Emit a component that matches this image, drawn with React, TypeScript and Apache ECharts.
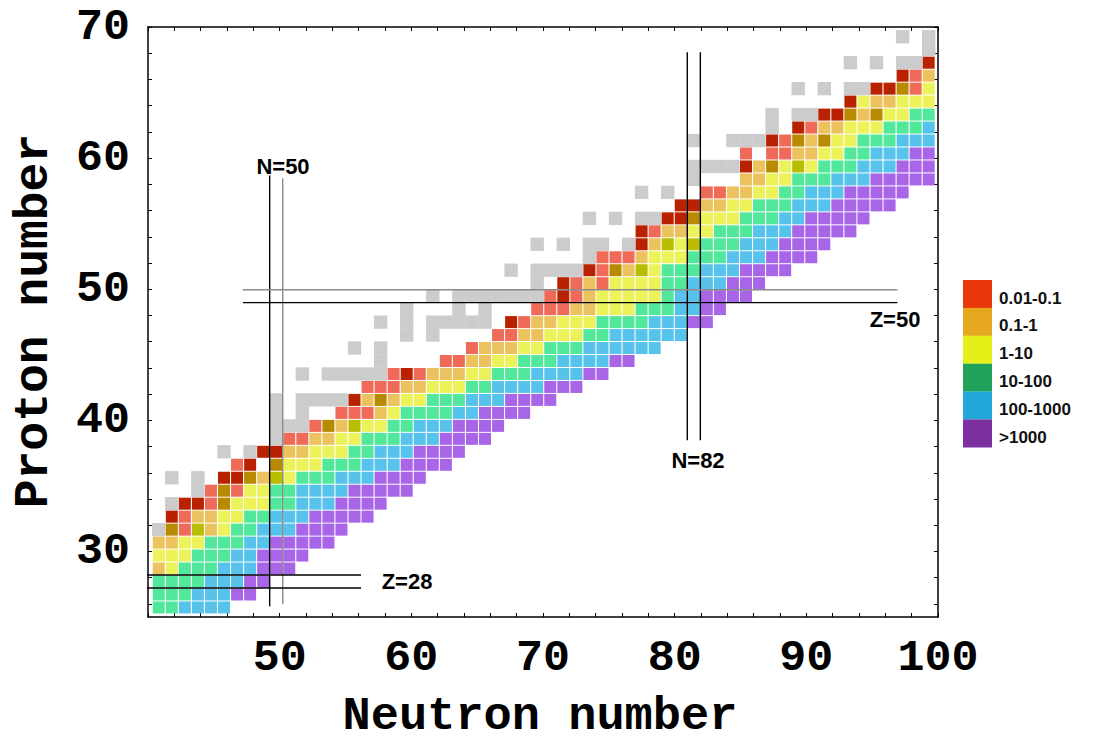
import React, { useEffect, useRef } from "react";
import * as echarts from "echarts";

// ---- data: one row per proton number Z, starting at neutron number firstNeutron ----
// codes: g unknown(grey), R/r 0.01-0.1 (dark/light), O/o 0.1-1, Y/y 1-10, G 10-100, b 100-1000, p >1000, "." empty
const protonNumbers = [
  26, 27, 28, 29, 30, 31, 32, 33, 34, 35, 36, 37, 38, 39, 40, 41, 42, 43, 44, 45, 46, 47, 48,
  49, 50, 51, 52, 53, 54, 55, 56, 57, 58, 59, 60, 61, 62, 63, 64, 65, 66, 67, 68, 69, 70,
];
const firstNeutron = [
  41, 41, 41, 41, 41, 41, 41, 42, 42, 44, 42, 47, 46, 50, 50, 50, 50, 57, 52, 58, 56, 60, 58,
  60, 62, 70, 68, 74, 70, 78, 74, 81, 78, 82, 82, 86, 82, 88, 88, 94, 90, 98, 94, 100, 98,
];
const cellClasses = [
  "GGbbbb",
  "GGGbbbpp",
  "GGGGbbbpp",
  "oyGGGbbbppp",
  "yyyGGGbbpppp",
  "ooyyGGGbbppppp",
  "gOrYoyGGbbbpppp",
  "RrooyyGGbbbppppp",
  "gRRrOyyyGGbbbpppp",
  "grOryyGGbbbbppppp",
  "g.g.RROoYyGGGbbbpppp",
  "rR.OyyyGGGbbbpppp",
  "g.gRRooyyyGGbbbpppp",
  "grrooyyGGGbbbpppp",
  "gggrOoYyyGGbbbpppp",
  "g.g..rrroyGGGGbbpppp",
  "g.ggggRoOoyyGGGbbbpppp",
  "rrrooyyyGGbbbbppp",
  "g.gggggrRroooyyGGGbbbbpp",
  "g....rrooyyGGGbbbbpp",
  "g.g......roooyyGGGbbbbbb",
  "g.g....rrooyyyGGbbbbbb",
  "g.g.ggggg.RrooyyyGGGGbbbpp",
  "g...g.g...rrrooyyyGGGbbpp",
  "g.gggggggrRroyyyyyGbbpppp",
  "g.RroryyyyGGbbbppp",
  "g.ggggRrOoYyGGGbbbpppp",
  "grrroyyyGGGbbbpppp",
  "g.g.gg.gRoYyYGGGbbbpppp",
  "RrooyyGGGbbbppppp",
  "g.g.ggRROyyyGGGbbppppp",
  "RRooyyGGGbbbppppp",
  "g.g..rrooyyGGbbbppppp",
  "g...ooyyGGGbbbppppp",
  "ggggRoOyYyGGGbbbppp",
  "r.rrooyyGGbbbpp",
  "g..gggRrOoOyyGGGbbb",
  "g.RrooyyyGGGb",
  "g.ggRROoOyyGG",
  "Ryooyyy",
  "g.g.ggRROry",
  "Rro",
  "g.g.ggR",
  "g",
  "g.g",
];

const classCodes = ["g", "R", "r", "O", "o", "Y", "y", "G", "b", "p"];
const classColors: Record<string, string> = {
  g: "#cccccc",
  R: "#b82200",
  r: "#f06a5a",
  O: "#b88a00",
  o: "#ecc25e",
  Y: "#b8bd00",
  y: "#ecf35a",
  G: "#52e89c",
  b: "#57c3ec",
  p: "#a865e8",
};

const legendLabels = ["0.01-0.1", "0.1-1", "1-10", "10-100", "100-1000", ">1000"];
const legendColors = ["#e8380a", "#e6a820", "#e6f018", "#20a25a", "#22a8d8", "#7c30a0"];

const xTickLabels = [50, 60, 70, 80, 90, 100];
const yTickLabels = [30, 40, 50, 60, 70];

// magic-number guide lines: [value, from, to, colour]
const magicNeutronLines: [number, number, number, string][] = [
  [49.5, 26.1, 59.3, "#000000"],
  [50.5, 26.25, 59.1, "#8a8a8a"],
  [81.5, 38.9, 68.8, "#000000"],
  [82.5, 38.9, 68.8, "#000000"],
];
const magicProtonLines: [number, number, number, string][] = [
  [28.5, 40.1, 56.5, "#000000"],
  [27.5, 40.1, 56.5, "#000000"],
  [50.5, 47.45, 97.6, "#8a8a8a"],
  [49.5, 47.45, 97.6, "#000000"],
];

export default function App() {
  const ref = useRef<HTMLDivElement>(null);

  useEffect(() => {
    if (!ref.current) return;
    const chart = echarts.init(ref.current, null, { renderer: "svg" });

    const cellsByClass: Record<string, number[][]> = {};
    classCodes.forEach((c) => (cellsByClass[c] = []));
    protonNumbers.forEach((z, i) => {
      const s = cellClasses[i];
      for (let k = 0; k < s.length; k++) {
        const c = s[k];
        if (c !== "." && cellsByClass[c]) cellsByClass[c].push([firstNeutron[i] + k, z]);
      }
    });

    const cellSeries = classCodes.map((code) => ({
      type: "scatter",
      name: code,
      xAxisIndex: 2,
      yAxisIndex: 2,
      symbol: "rect",
      symbolSize: code === "g" ? [13.4, 13.3] : [12, 12],
      itemStyle: { color: classColors[code], opacity: 1 },
      z: code === "g" ? 1 : 2,
      silent: true,
      data: cellsByClass[code],
    }));

    const lineSeries = [
      ...magicNeutronLines.map(([v, a, b, col]) => ({
        type: "line",
        xAxisIndex: 2,
        yAxisIndex: 2,
        symbol: "none",
        silent: true,
        z: 5,
        lineStyle: { color: col, width: 1.4 },
        data: [
          [v, a],
          [v, b],
        ],
      })),
      ...magicProtonLines.map(([v, a, b, col]) => ({
        type: "line",
        xAxisIndex: 2,
        yAxisIndex: 2,
        symbol: "none",
        silent: true,
        z: 5,
        lineStyle: { color: col, width: 1.4 },
        data: [
          [a, v],
          [b, v],
        ],
      })),
    ];

    const xTicks: number[] = [];
    for (let v = 40; v <= 100; v += 2) xTicks.push(v);
    const yTicks: number[] = [];
    for (let v = 26; v <= 70; v += 2) yTicks.push(v);

    const tickFont = {
      fontFamily: "Liberation Mono",
      fontWeight: "bold",
      fontSize: 45,
      color: "#000",
    };
    const frameLine = { show: true, onZero: false, lineStyle: { color: "#000", width: 1.5 } };
    const innerTick = { show: true, inside: true, length: 4, lineStyle: { color: "#000", width: 1 } };

    const labelText = (text: string, x: number, y: number) => ({
      type: "text",
      x,
      y,
      style: {
        text,
        fill: "#000",
        font: "bold 22px 'Liberation Sans'",
        textAlign: "center",
        textVerticalAlign: "middle",
      },
    });

    const legendItems: any[] = [];
    legendLabels.forEach((lab, i) => {
      legendItems.push({
        type: "rect",
        shape: { x: 963, y: 280 + i * 27.9, width: 29, height: 28 },
        style: { fill: legendColors[i] },
      });
      legendItems.push({
        type: "text",
        x: 999,
        y: 298 + i * 27.9,
        style: {
          text: lab,
          fill: "#111",
          font: "bold 17px 'Liberation Sans'",
          textAlign: "left",
          textVerticalAlign: "middle",
        },
      });
    });

    const option: any = {
      animation: false,
      backgroundColor: "#fff",
      grid: {
        left: 148,
        top: 27,
        width: 790,
        height: 590,
        containLabel: false,
        outerBoundsMode: "none",
      },
      xAxis: [
        {
          type: "value",
          position: "bottom",
          min: 40,
          max: 100,
          interval: 2,
          axisLine: frameLine,
          axisTick: { ...innerTick, customValues: xTicks },
          axisLabel: {
            ...tickFont,
            margin: 19,
            customValues: xTickLabels,
            formatter: (v: number) => (xTickLabels.includes(v) ? String(v) : ""),
          },
          splitLine: { show: false },
        },
        {
          type: "value",
          position: "top",
          min: 40,
          max: 100,
          interval: 2,
          axisLine: frameLine,
          axisTick: { ...innerTick, customValues: xTicks },
          axisLabel: { show: false },
          splitLine: { show: false },
        },
        { type: "value", min: 40.176, max: 100.712, show: false, splitLine: { show: false } },
      ],
      yAxis: [
        {
          type: "value",
          position: "left",
          min: 25,
          max: 70,
          interval: 5,
          axisLine: frameLine,
          axisTick: { ...innerTick, customValues: yTicks },
          axisLabel: {
            ...tickFont,
            margin: 18,
            customValues: yTickLabels,
            formatter: (v: number) => (yTickLabels.includes(v) ? String(v) : ""),
          },
          splitLine: { show: false },
        },
        {
          type: "value",
          position: "right",
          min: 25,
          max: 70,
          interval: 5,
          axisLine: frameLine,
          axisTick: { ...innerTick, customValues: yTicks },
          axisLabel: { show: false },
          splitLine: { show: false },
        },
        { type: "value", min: 25.263, max: 70.753, show: false, splitLine: { show: false } },
      ],
      series: [...cellSeries, ...lineSeries],
      graphic: [
        {
          type: "text",
          x: 540,
          y: 716,
          style: {
            text: "Neutron number",
            fill: "#000",
            font: "bold 47px 'Liberation Mono'",
            lineHeight: 34,
            textAlign: "center",
            textVerticalAlign: "middle",
          },
        },
        {
          type: "text",
          x: 34,
          y: 321,
          rotation: Math.PI / 2,
          style: {
            text: "Proton number",
            fill: "#000",
            font: "bold 48px 'Liberation Mono'",
            lineHeight: 36,
            textAlign: "center",
            textVerticalAlign: "middle",
          },
        },
        labelText("N=50", 283, 166),
        labelText("N=82", 698, 460),
        labelText("Z=50", 895, 319),
        labelText("Z=28", 407, 581),
        ...legendItems,
      ],
    };

    chart.setOption(option);
    return () => chart.dispose();
  }, []);

  return (
    <div
      ref={ref}
      style={{ position: "absolute", left: 0, top: 0, width: 1096, height: 742, background: "#fff" }}
    />
  );
}
